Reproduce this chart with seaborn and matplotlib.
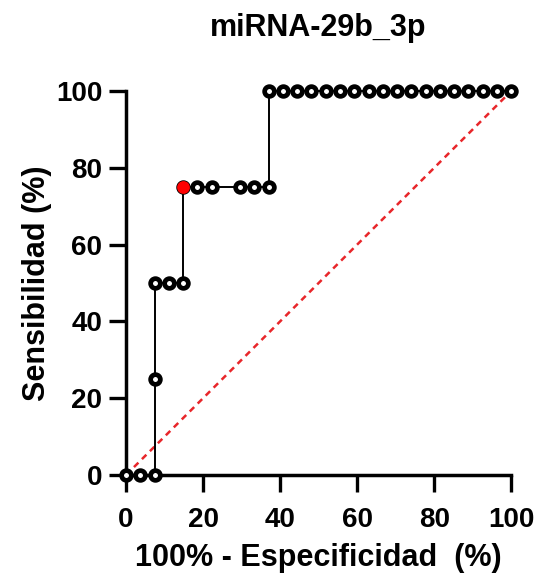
import matplotlib
matplotlib.use("Agg")
import matplotlib.pyplot as plt
import seaborn as sns
import pandas as pd

title = "miRNA-29b_3p"
xlabel = "100% - Especificidad  (%)"
ylabel = "Sensibilidad (%)"
ticks = [0, 20, 40, 60, 80, 100]

fpr = [0, 3.70, 7.41, 7.41, 7.41, 11.11, 14.81, 14.81, 18.52, 22.22, 29.63,
       33.33, 37.04, 37.04, 40.74, 44.44, 48.15, 51.85, 55.56, 59.26, 62.96,
       66.67, 70.37, 74.07, 77.78, 81.48, 85.19, 88.89, 92.59, 96.30, 100]
tpr = [0, 0, 0, 25, 50, 50, 50, 75, 75, 75, 75, 75, 75, 100, 100, 100, 100,
       100, 100, 100, 100, 100, 100, 100, 100, 100, 100, 100, 100, 100, 100]
best_x = [14.81]
best_y = [75]
diag = [0, 100]

sns.set_style("ticks")
plt.rcParams['font.family'] = ['Liberation Sans', 'DejaVu Sans']
plt.rcParams['font.weight'] = 'bold'
plt.rcParams['text.color'] = 'black'
plt.rcParams['axes.labelcolor'] = 'black'
plt.rcParams['xtick.color'] = 'black'
plt.rcParams['ytick.color'] = 'black'

fig = plt.figure(figsize=(5.38, 5.80), dpi=100)
ax = fig.add_axes([0.2342, 0.181, 0.716, 0.662])

df = pd.DataFrame({"fpr": fpr, "tpr": tpr})
ax.plot(diag, diag, color="#e8262a", ls=(0, (2.5, 2)), lw=1.8, zorder=1)
sns.lineplot(data=df, x="fpr", y="tpr", sort=False, estimator=None, ax=ax,
             color="black", lw=1.4, marker="o", markersize=7,
             markerfacecolor="white", markeredgecolor="black",
             markeredgewidth=3.4, clip_on=False, zorder=3)
sns.scatterplot(x=best_x, y=best_y, ax=ax, color="#ff0000", s=85,
                edgecolor="#ff0000", linewidth=0, zorder=4, clip_on=False)

ax.set_xlim(0, 100)
ax.set_ylim(0, 100)
ax.set_xticks(ticks)
ax.set_yticks(ticks)
ax.tick_params(axis="both", length=12, width=2.4, labelsize=20,
               color="black", labelcolor="black")
ax.tick_params(axis="x", pad=11)
ax.tick_params(axis="y", pad=5)
for lab in ax.get_xticklabels() + ax.get_yticklabels():
    lab.set_fontweight("bold")
for s in ["left", "bottom"]:
    ax.spines[s].set_linewidth(2.5)
    ax.spines[s].set_color("black")
sns.despine(ax=ax)

ax.set_title(title, fontsize=22, fontweight="bold", pad=40, color="black")
ax.set_xlabel(xlabel, fontsize=22, fontweight="bold", labelpad=7)
ax.set_ylabel(ylabel, fontsize=22, fontweight="bold", labelpad=3)

fig.savefig("out.png", dpi=100)
